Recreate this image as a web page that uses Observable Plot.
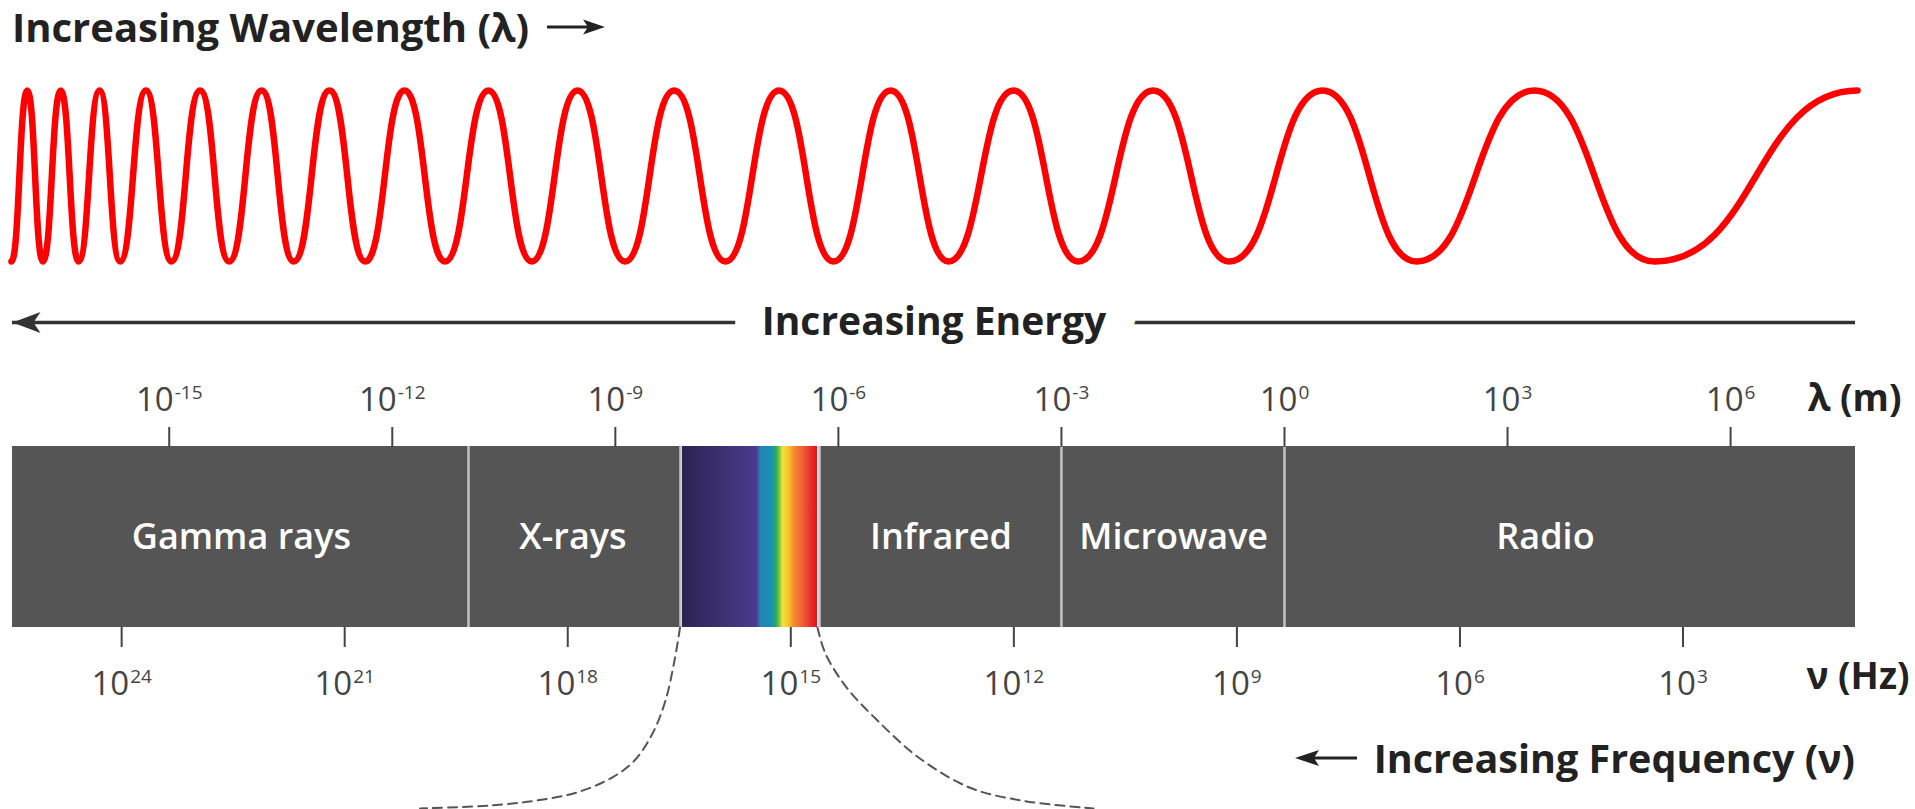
<!DOCTYPE html>
<html>
<head>
<meta charset="utf-8">
<script src="https://cdn.jsdelivr.net/npm/d3@7"></script>
<script src="https://cdn.jsdelivr.net/npm/@observablehq/plot@0.6"></script>
<style>
  body { margin: 0; background: #fff; font-family: "Open Sans", sans-serif; }
  #chart { position: relative; width: 1915px; height: 809px; overflow: hidden; background: #fff; }
  #title { position: absolute; left: 12px; top: 7px; height: 40px; line-height: 40px; font-size: 40px; font-weight: 700; color: #222; white-space: nowrap; display: flex; align-items: center; }
  #caption { position: absolute; right: 60px; top: 738px; height: 40px; line-height: 40px; font-size: 39.5px; font-weight: 700; color: #222; white-space: nowrap; display: flex; align-items: center; }
  .layer { position: absolute; left: 0; }
  svg { display: block; overflow: visible; }
</style>
</head>
<body>
<div id="chart">
  <div id="title">Increasing Wavelength (λ)<svg width="60" height="20" style="margin-left:18px"><line x1="0" y1="10" x2="44" y2="10" stroke="#222" stroke-width="3"/><path d="M58,10 L36,2.5 L41,10 L36,17.5 Z" fill="#222"/></svg></div>
  <div id="wave" class="layer" style="top:56px"></div>
  <div id="energy" class="layer" style="top:286px"></div>
  <div id="bar" class="layer" style="top:358px"></div>
  <div id="caption"><svg width="62" height="20" style="margin-right:17px"><line x1="16" y1="10" x2="62" y2="10" stroke="#222" stroke-width="3"/><path d="M0,10 L24,2 L19,10 L24,18 Z" fill="#222"/></svg>Increasing Frequency (ν)</div>
</div>
<script>
// ---------- data (x positions are log10 of wavelength in metres, as drawn) ----------
const xDomain = [-17.108, 7.68];

// wave extremes along the wavelength axis
const waveTroughs = [-17.122, -16.699, -16.219, -15.661, -14.970, -14.195, -13.325, -12.365, -11.290,
  -10.124, -8.869, -7.519, -6.066, -4.519, -2.775, -0.745, 1.775, 4.976];
const wavePeaks = [-16.909, -16.459, -15.937, -15.313, -14.585, -13.757, -12.845, -11.836, -10.707,
  -9.509, -8.209, -6.798, -5.297, -3.645, -1.766, 0.511, 3.362, 7.707];

// spectrum bands
const bandNames = ["Gamma rays", "X-rays", "Visible", "Infrared", "Microwave", "Radio"];
const bandStart = [-17.108, -10.975, -8.124, -6.254, -3, 0];
const bandEnd = [-10.975, -8.124, -6.254, -3, 0, 7.68];
const bandLabelAt = [-14.03, -9.57, null, -4.62, -1.49, 3.51];

// tick labels
const lambdaTickExp = [-15, -12, -9, -6, -3, 0, 3, 6];
const freqTickExp = [24, 21, 18, 15, 12, 9, 6, 3];
const freqAxisShift = 8.36; // log10(c) as placed in the drawing

// visible-light gradient
const spectrumStops = [0, 0.55, 0.58, 0.66, 0.695, 0.72, 0.745, 0.79, 0.83, 0.9, 0.95, 1];
const spectrumColors = ["#2c2450", "#4c3a8f", "#2a80b5", "#1590b8", "#2aa860", "#7cc242",
  "#f0e43a", "#f8c02a", "#f48a2e", "#f05a35", "#e8302a", "#e3141b"];

// dashed zoom guides (x: log10 λ, y: in bar heights below the bar)
const dashLeftX = [-8.130, -8.204, -8.325, -8.500, -8.742, -9.044, -9.522, -10.065, -10.666, -11.626];
const dashLeftY = [0, -0.182, -0.403, -0.586, -0.735, -0.829, -0.912, -0.956, -0.983, -1.0];
const dashRightX = [-6.281, -6.174, -5.891, -5.474, -4.923, -4.237, -3.537, -2.569];
const dashRightY = [0, -0.144, -0.331, -0.514, -0.718, -0.884, -0.956, -1.0];

// ---------- build ----------
const W = 1915, ML = 12, MR = 60;
const xScale = {domain: xDomain, axis: null};

const waveData = [
  ...waveTroughs.map(x => ({x, y: -1})),
  ...wavePeaks.map(x => ({x, y: 1}))
].sort((a, b) => a.x - b.x);

const wavePlot = Plot.plot({
  width: W, height: 230, marginLeft: ML, marginRight: MR, marginTop: 34, marginBottom: 25,
  x: xScale, y: {domain: [-1, 1], axis: null},
  marks: [
    Plot.line(waveData, {x: "x", y: "y", curve: "bump-x", stroke: "#ff0000", strokeWidth: 6.5})
  ]
});
document.getElementById("wave").append(wavePlot);

const stealthLeft = {draw(ctx) { ctx.moveTo(0, 0); ctx.lineTo(28, -10.5); ctx.lineTo(21, 0); ctx.lineTo(28, 10.5); ctx.closePath(); }};

const energyPlot = Plot.plot({
  width: W, height: 72, marginLeft: ML, marginRight: MR, marginTop: 0, marginBottom: 0,
  x: xScale, y: {domain: [-1, 1], axis: null},
  style: {fontFamily: "Open Sans"},
  marks: [
    Plot.ruleY([0], {stroke: "#333", strokeWidth: 3.5}),
    Plot.dot([{x: xDomain[0], y: 0}], {x: "x", y: "y", symbol: stealthLeft, fill: "#333", stroke: "none"}),
    Plot.text(["Increasing Energy"], {frameAnchor: "middle", fontSize: 39, fontWeight: 700, fill: "#222",
      stroke: "white", strokeWidth: 60, strokeLinejoin: "round"})
  ]
});
document.getElementById("energy").append(energyPlot);

const bands = bandNames.map((name, i) => ({name, start: bandStart[i], end: bandEnd[i], labelAt: bandLabelAt[i]}));
const boundaries = bandStart.slice(1);
const dashData = [
  ...dashLeftX.map((x, i) => ({side: "left", x, y: dashLeftY[i]})),
  ...dashRightX.map((x, i) => ({side: "right", x, y: dashRightY[i]}))
];

const gradientDefs = () => {
  const ns = "http://www.w3.org/2000/svg";
  const defs = document.createElementNS(ns, "defs");
  const lg = document.createElementNS(ns, "linearGradient");
  lg.setAttribute("id", "visGrad");
  lg.setAttribute("x1", "0"); lg.setAttribute("y1", "0"); lg.setAttribute("x2", "1"); lg.setAttribute("y2", "0");
  spectrumStops.forEach((s, i) => {
    const st = document.createElementNS(ns, "stop");
    st.setAttribute("offset", s);
    st.setAttribute("stop-color", spectrumColors[i]);
    lg.appendChild(st);
  });
  defs.appendChild(lg);
  return defs;
};

const barPlot = Plot.plot({
  width: W, height: 451, marginLeft: ML, marginRight: MR, marginTop: 88, marginBottom: 182,
  x: xScale, y: {domain: [0, 1], axis: null},
  style: {fontFamily: "Open Sans"},
  marks: [
    gradientDefs,
    Plot.rect(bands.filter(d => d.name !== "Visible"), {x1: "start", x2: "end", fill: "#555555"}),
    Plot.rect(bands.filter(d => d.name === "Visible"), {x1: "start", x2: "end", fill: "url(#visGrad)", insetLeft: 2, insetRight: 2}),
    Plot.ruleX(boundaries, {stroke: "#c4c4c4", strokeWidth: 2.5}),
    Plot.text(bands.filter(d => d.labelAt != null), {x: "labelAt", text: "name", frameAnchor: "middle",
      fill: "white", fontSize: 36, fontWeight: 600}),
    Plot.axisX(lambdaTickExp, {anchor: "top", tickSize: 20, tickPadding: 16, strokeWidth: 2,
      tickFormat: d => `10^${d}`, fontSize: 33, color: "#444"}),
    Plot.axisX(freqTickExp.map(n => freqAxisShift - n), {anchor: "bottom", tickSize: 20, tickPadding: 24, strokeWidth: 2,
      tickFormat: v => `10^${Math.round(freqAxisShift - v)}`, fontSize: 33, color: "#444"}),
    Plot.text(["λ (m)"], {frameAnchor: "top-right", dx: 46, dy: -36, textAnchor: "end", lineAnchor: "bottom",
      fontSize: 37, fontWeight: 700, fill: "#222"}),
    Plot.text(["ν (Hz)"], {frameAnchor: "bottom-right", dx: 54, dy: 61, textAnchor: "end", lineAnchor: "bottom",
      fontSize: 37, fontWeight: 700, fill: "#222"}),
    Plot.line(dashData, {x: "x", y: "y", z: "side", curve: "catmull-rom", stroke: "#555",
      strokeWidth: 2, strokeDasharray: "9,6"})
  ]
});

// superscript exponents in tick labels
const NS = "http://www.w3.org/2000/svg";
barPlot.querySelectorAll("text").forEach(t => {
  const s = t.textContent;
  const i = s.indexOf("^");
  if (i < 0) return;
  t.textContent = s.slice(0, i);
  const ts = document.createElementNS(NS, "tspan");
  ts.setAttribute("font-size", "19");
  ts.setAttribute("dy", "-12");
  ts.setAttribute("dx", "1");
  ts.textContent = s.slice(i + 1);
  t.appendChild(ts);
});
document.getElementById("bar").append(barPlot);
</script>
</body>
</html>
